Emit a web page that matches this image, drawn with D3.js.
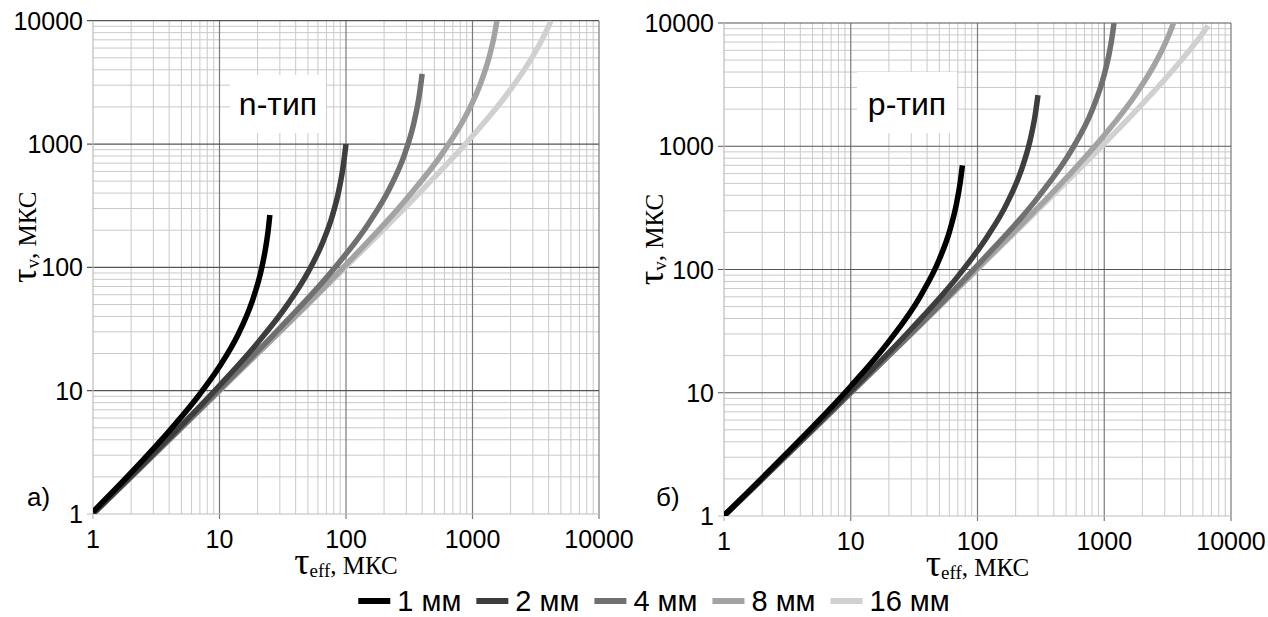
<!DOCTYPE html>
<html>
<head>
<meta charset="utf-8">
<script src="https://cdn.jsdelivr.net/npm/d3@7"></script>
<style>
  body { margin: 0; background: #fff; }
  text { fill: #000; }
</style>
</head>
<body>
<svg id="chart" width="1268" height="617"></svg>
<script>
// ---- data ----
const thickness = ["1 мм", "2 мм", "4 мм", "8 мм", "16 мм"];
const decades = [1, 10, 100, 1000, 10000];

// n-type panel: tau_eff vs tau_v
const nTeff1 = [1, 2, 4, 7, 10, 14, 18, 21, 23, 24.2, 25];
const nTv1   = [1.04, 2.16, 4.7, 9.4, 15.7, 28.4, 52, 88, 138, 196, 266];
const nTeff2 = [1, 3, 10, 20, 35, 50, 65, 78, 88, 95, 100];
const nTv2   = [1.01, 3.08, 11, 24.4, 51, 91, 157, 262, 425, 660, 1000];
const nTeff4 = [1, 10, 30, 80, 150, 220, 290, 340, 380, 400];
const nTv4   = [1, 10.2, 32.2, 97, 225, 432, 822, 1410, 2500, 3700];
const nTeff8 = [1, 10, 100, 300, 600, 900, 1150, 1350, 1480, 1560];
const nTv8   = [1, 10, 105, 358, 888, 1750, 3040, 5000, 7400, 10000];
const nTeff16 = [1, 10, 100, 300, 1000, 2000, 3000, 3600, 4000, 4180];
const nTv16   = [1, 10, 101, 313, 1160, 2770, 5160, 7230, 9050, 10000];

// p-type panel
const pTeff1 = [1, 3, 10, 20, 35, 50, 60, 68, 73, 76];
const pTv1   = [1.01, 3.1, 11.3, 26.1, 59.4, 121, 202, 335, 506, 700];
const pTeff2 = [1, 10, 30, 70, 120, 170, 220, 260, 285, 300];
const pTv2   = [1, 10.3, 32.9, 88, 186, 341, 627, 1116, 1790, 2600];
const pTeff4 = [1, 10, 100, 300, 550, 800, 1000, 1100, 1150, 1194];
const pTv4   = [1, 10, 108, 385, 925, 1950, 3810, 5830, 7570, 10000];
const pTeff8 = [1, 10, 100, 500, 1000, 1800, 2500, 3000, 3300, 3516];
const pTv8   = [1, 10, 102, 551, 1226, 2694, 4637, 6713, 8427, 10000];
const pTeff16 = [1, 10, 100, 500, 1000, 2000, 3500, 5000, 6000, 6600];
const pTv16   = [1, 10, 100.5, 512, 1048, 2203, 4173, 6497, 8293, 9500];

// ---- styling ----
const lineColors = ["#000000", "#3d3d3d", "#707070", "#a3a3a3", "#d0d0d0"];
const sansFont = "'Liberation Sans', Arial, sans-serif";
const serifFont = "'Liberation Serif', 'Times New Roman', serif";

const svg = d3.select("#chart");

const panels = [
  {
    id: "n", x0: 93, x1: 599, yBottom: 514, yTop: 20.7,
    teff: [nTeff1, nTeff2, nTeff4, nTeff8, nTeff16],
    tv: [nTv1, nTv2, nTv4, nTv8, nTv16],
    label: "n-тип", box: [230, 75, 96, 58], labelX: 278,
    letter: "а)", letterX: 27, titleX: 36
  },
  {
    id: "p", x0: 724, x1: 1231, yBottom: 516, yTop: 23,
    teff: [pTeff1, pTeff2, pTeff4, pTeff8, pTeff16],
    tv: [pTv1, pTv2, pTv4, pTv8, pTv16],
    label: "p-тип", box: [857, 72, 100, 61], labelX: 907,
    letter: "б)", letterX: 656, titleX: 663
  }
];

// minor gridline values 2..9 in each decade
const minorVals = [];
decades.slice(0, -1).forEach(d => {
  for (let k = 2; k <= 9; k++) minorVals.push(k * d);
});

panels.forEach(p => {
  const x = d3.scaleLog().domain([1, 10000]).range([p.x0, p.x1]);
  const y = d3.scaleLog().domain([1, 10000]).range([p.yBottom, p.yTop]);
  const g = svg.append("g");

  // minor grid
  g.append("g").selectAll("line").data(minorVals).join("line")
    .attr("x1", d => x(d)).attr("x2", d => x(d))
    .attr("y1", p.yBottom).attr("y2", p.yTop)
    .attr("stroke", "#c9c9c9").attr("stroke-width", 1);
  g.append("g").selectAll("line").data(minorVals).join("line")
    .attr("y1", d => y(d)).attr("y2", d => y(d))
    .attr("x1", p.x0).attr("x2", p.x1)
    .attr("stroke", "#c9c9c9").attr("stroke-width", 1);

  // major grid
  g.append("g").selectAll("line").data(decades.slice(1)).join("line")
    .attr("x1", d => x(d)).attr("x2", d => x(d))
    .attr("y1", p.yBottom + 5).attr("y2", p.yTop)
    .attr("stroke", "#7a7a7a").attr("stroke-width", 1.2);
  g.append("g").selectAll("line").data(decades.slice(1)).join("line")
    .attr("y1", d => y(d)).attr("y2", d => y(d))
    .attr("x1", p.x0 - 6).attr("x2", p.x1)
    .attr("stroke", "#555").attr("stroke-width", 1.2);

  // axis lines at 1
  g.append("line").attr("x1", p.x0 - 6).attr("x2", p.x1)
    .attr("y1", p.yBottom).attr("y2", p.yBottom)
    .attr("stroke", "#bdbdbd").attr("stroke-width", 1.2);
  g.append("line").attr("x1", p.x0).attr("x2", p.x0)
    .attr("y1", p.yBottom + 5).attr("y2", p.yTop)
    .attr("stroke", "#bdbdbd").attr("stroke-width", 1.2);

  // tick labels
  g.append("g").selectAll("text").data(decades).join("text")
    .attr("x", p.x0 - 10).attr("y", d => y(d))
    .attr("dy", "0.36em")
    .attr("text-anchor", "end")
    .style("font-family", sansFont).style("font-size", "25px")
    .text(d => d);
  g.append("g").selectAll("text").data(decades).join("text")
    .attr("x", d => x(d)).attr("y", p.yBottom + 34)
    .attr("text-anchor", "middle")
    .style("font-family", sansFont).style("font-size", "25px")
    .text(d => d);

  // panel type label on white box
  g.append("rect")
    .attr("x", p.box[0]).attr("y", p.box[1])
    .attr("width", p.box[2]).attr("height", p.box[3])
    .attr("fill", "#fff");
  g.append("text")
    .attr("x", p.labelX).attr("y", 115)
    .attr("text-anchor", "middle")
    .style("font-family", sansFont).style("font-size", "32px")
    .text(p.label);

  // curves
  svg.append("clipPath").attr("id", "clip-" + p.id)
    .append("rect")
    .attr("x", p.x0).attr("y", p.yTop)
    .attr("width", p.x1 - p.x0).attr("height", p.yBottom - p.yTop);

  const line = d3.line()
    .x(d => x(d[0]))
    .y(d => y(d[1]))
    .curve(d3.curveMonotoneX);

  const series = p.teff.map((xs, i) => xs.map((v, j) => [v, p.tv[i][j]]));
  g.append("g").attr("clip-path", `url(#clip-${p.id})`)
    .selectAll("path")
    .data(series.map((s, i) => ({ s, i })).reverse())
    .join("path")
    .attr("d", d => line(d.s))
    .attr("fill", "none")
    .attr("stroke", d => lineColors[d.i])
    .attr("stroke-width", 5.5);

  // axis titles
  const cx = (p.x0 + p.x1) / 2;
  const xt = g.append("text")
    .attr("x", cx).attr("y", p.yBottom + 60)
    .attr("text-anchor", "middle")
    .style("font-family", serifFont);
  xt.append("tspan").style("font-size", "38px").text("τ");
  xt.append("tspan").style("font-size", "19px").attr("dy", 3).text("eff");
  xt.append("tspan").style("font-size", "25px").attr("dy", -3).text(", МКС");

  const yt = g.append("text")
    .attr("transform", `translate(${p.titleX},${(p.yBottom + p.yTop) / 2 - 30}) rotate(-90)`)
    .attr("text-anchor", "middle")
    .style("font-family", serifFont);
  yt.append("tspan").style("font-size", "36px").text("τ");
  yt.append("tspan").style("font-size", "19px").attr("dy", 3).text("v");
  yt.append("tspan").style("font-size", "25px").attr("dy", -3).text(", МКС");

  // panel letter
  g.append("text")
    .attr("x", p.letterX).attr("y", 506)
    .style("font-family", sansFont).style("font-size", "26px")
    .text(p.letter);
});

// ---- legend ----
const legend = svg.append("g");
let lx = 0;
thickness.forEach((t, i) => {
  const it = legend.append("g");
  it.append("line").attr("x1", 0).attr("x2", 32).attr("y1", 0).attr("y2", 0)
    .attr("stroke", lineColors[i]).attr("stroke-width", 6);
  const tx = it.append("text").attr("x", 39).attr("y", 10)
    .style("font-family", sansFont).style("font-size", "29px")
    .text(t);
  const w = 39 + tx.node().getComputedTextLength();
  it.attr("transform", `translate(${lx},601)`);
  lx += w + 15;
});
const legendW = lx - 15;
legend.attr("transform", `translate(${654 - legendW / 2},0)`);
</script>
</body>
</html>
